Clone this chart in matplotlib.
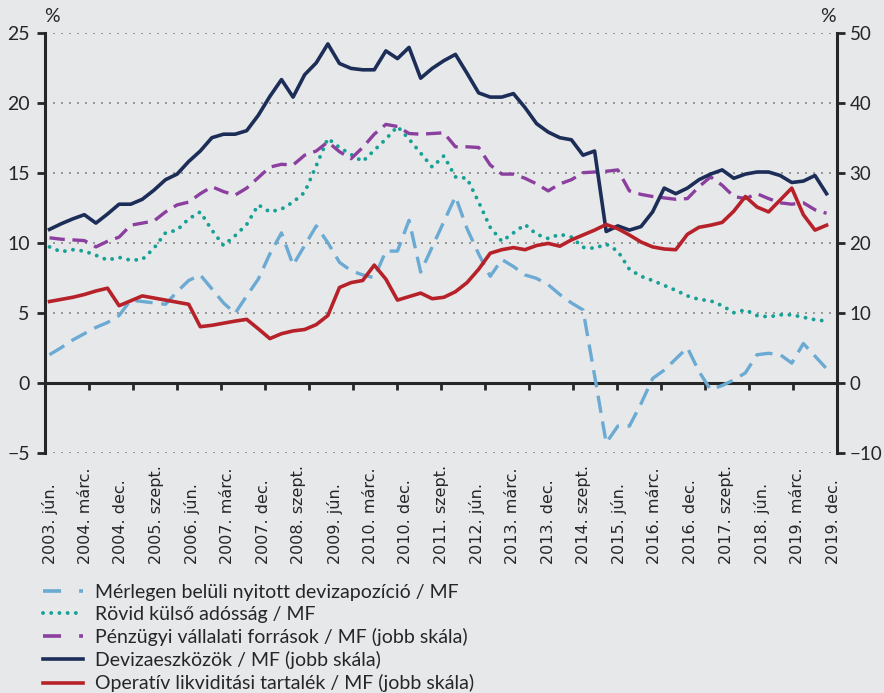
import numpy as np
import matplotlib.pyplot as plt
from matplotlib.lines import Line2D
from matplotlib.transforms import blended_transform_factory

# Quarterly data
tick_labels = ['2003. jún.', '2004. márc.', '2004. dec.', '2005. szept.', '2006. jún.',
               '2007. márc.', '2007. dec.', '2008. szept.', '2009. jún.', '2010. márc.',
               '2010. dec.', '2011. szept.', '2012. jún.', '2013. márc.', '2013. dec.',
               '2014. szept.', '2015. jún.', '2016. márc.', '2016. dec.', '2017. szept.',
               '2018. jún.', '2019. márc.', '2019. dec.']

# left scale (%)
merleg = [2.0, 2.5, 3.05, 3.5, 3.95, 4.3, 4.8, 5.9, 5.8, 5.7,
          5.6, 6.5, 7.3, 7.7, 6.7, 5.7, 4.95, 6.2, 7.4, 9.2,
          10.7, 8.4, 9.8, 11.2, 10.0, 8.6, 8.0, 7.7, 7.5, 9.4,
          9.4, 11.6, 7.9, 9.7, 11.5, 13.3, 11.0, 9.2, 7.6, 8.8,
          8.3, 7.7, 7.45, 7.0, 6.3, 5.7, 5.2, 0.5, -4.3, -3.1,
          -3.1, -1.5, 0.3, 0.9, 1.7, 2.5, 0.8, -0.5, -0.2, 0.2,
          0.7, 2.0, 2.1, 2.0, 1.4, 2.8, 1.9, 1.0]
rovid = [9.7, 9.35, 9.5, 9.4, 9.1, 8.76, 8.95, 8.75, 8.8, 9.6,
         10.7, 10.9, 11.7, 12.2, 10.9, 9.8, 10.5, 11.3, 12.7, 12.2,
         12.4, 12.9, 13.6, 15.5, 17.45, 16.8, 16.3, 15.8, 16.6, 17.4,
         18.3, 17.4, 16.4, 15.4, 16.2, 14.7, 14.6, 12.9, 11.1, 10.1,
         10.7, 11.3, 10.6, 10.3, 10.6, 10.4, 9.67, 9.6, 9.9, 9.4,
         8.1, 7.6, 7.3, 6.95, 6.6, 6.2, 5.95, 5.85, 5.5, 5.0,
         5.2, 4.8, 4.7, 4.85, 4.85, 4.67, 4.5, 4.4]

# right scale (%)
penzugyi = [20.7, 20.5, 20.4, 20.3, 19.4, 20.2, 20.8, 22.5, 22.8, 23.1,
            24.4, 25.4, 25.8, 27.0, 28.0, 27.3, 26.8, 27.8, 29.3, 30.8,
            31.2, 31.1, 32.5, 33.1, 34.4, 33.0, 32.0, 33.6, 35.5, 36.9,
            36.6, 35.6, 35.5, 35.6, 35.7, 33.7, 33.7, 33.6, 31.1, 29.8,
            29.8, 29.2, 28.4, 27.4, 28.4, 29.0, 30.0, 30.1, 30.2, 30.4,
            27.4, 26.9, 26.6, 26.4, 26.2, 26.3, 28.0, 29.4, 28.2, 26.6,
            26.3, 27.0, 26.3, 25.7, 25.5, 25.7, 24.7, 24.2]
deviza = [21.9, 22.7, 23.4, 24.0, 22.8, 24.1, 25.5, 25.5, 26.2, 27.5,
          29.0, 29.8, 31.6, 33.1, 35.0, 35.5, 35.5, 36.0, 38.2, 40.9,
          43.3, 40.8, 44.0, 45.7, 48.4, 45.6, 44.9, 44.7, 44.7, 47.4,
          46.3, 47.9, 43.5, 44.9, 46.0, 46.9, 44.2, 41.4, 40.8, 40.8,
          41.3, 39.3, 37.0, 35.8, 35.0, 34.7, 32.5, 33.1, 21.6, 22.4,
          21.8, 22.3, 24.4, 27.8, 27.0, 27.8, 29.0, 29.8, 30.4, 29.2,
          29.8, 30.1, 30.1, 29.6, 28.6, 28.8, 29.6, 27.0]
operativ = [11.6, 11.9, 12.2, 12.6, 13.1, 13.5, 11.0, 11.7, 12.4, 12.1,
            11.8, 11.5, 11.2, 8.0, 8.2, 8.5, 8.8, 9.05, 7.7, 6.3,
            7.0, 7.4, 7.6, 8.3, 9.6, 13.6, 14.3, 14.6, 16.8, 14.8,
            11.8, 12.3, 12.8, 12.0, 12.2, 13.0, 14.3, 16.2, 18.5, 19.0,
            19.3, 19.0, 19.6, 19.9, 19.5, 20.4, 21.1, 21.8, 22.6, 22.0,
            21.1, 20.1, 19.4, 19.1, 19.0, 21.2, 22.2, 22.5, 22.9, 24.5,
            26.6, 25.1, 24.4, 26.1, 27.8, 24.0, 21.8, 22.5]

legend_labels = ['Mérlegen belüli nyitott devizapozíció / MF',
                 'Rövid külső adósság / MF',
                 'Pénzügyi vállalati források / MF (jobb skála)',
                 'Devizaeszközök / MF (jobb skála)',
                 'Operatív likviditási tartalék / MF (jobb skála)']

BG = '#e7e8ea'
INK = '#262626'
C_BLUE = '#6aaad3'
C_TEAL = '#16a096'
C_PURPLE = '#8b3f9e'
C_NAVY = '#1c2e58'
C_RED = '#b7222a'

plt.rcParams['font.family'] = ['Lato', 'DejaVu Sans']

fig = plt.figure(figsize=(8.84, 6.93), dpi=100, facecolor=BG)
ax = fig.add_axes([45 / 884, 1 - 452.7 / 693, 792 / 884, 420 / 693])
ax.set_facecolor(BG)
ax2 = ax.twinx()

x = np.arange(len(deviza))
xlim = (-0.39, 67.9)
ax.set_xlim(*xlim)
ax.set_ylim(-5, 25)
ax2.set_ylim(-10, 50)
ax.set_yticks(range(-5, 26, 5))
ax2.set_yticks(range(-10, 51, 10))

# dotted horizontal grid
ax.grid(axis='y', color='#8a8a8a', lw=1.2, ls=(0, (1.2, 3.6)), zorder=0)
ax.set_axisbelow(True)

# spines
for s in ['top', 'right']:
    ax.spines[s].set_visible(False)
for s in ['top', 'left', 'bottom']:
    ax2.spines[s].set_visible(False)
ax.spines['bottom'].set_position(('data', 0))
for sp in [ax.spines['left'], ax.spines['bottom'], ax2.spines['right']]:
    sp.set_linewidth(2.2)
    sp.set_color(INK)

ax.set_xticks(np.linspace(xlim[0], xlim[1], 19))
ax.tick_params(axis='x', direction='out', length=5, width=2, color=INK, labelbottom=False)
ax.tick_params(axis='y', direction='out', length=6, width=2, color=INK,
               labelsize=14, labelcolor=INK, pad=5)
ax2.tick_params(axis='y', direction='out', length=6, width=2, color=INK,
                labelsize=13.5, labelcolor=INK, pad=3)

# series
lw = 2.6
ax.plot(x, merleg, color=C_BLUE, lw=2.4, ls=(0, (5.2, 2.6)), zorder=3)
ax.plot(x, rovid, color=C_TEAL, lw=2.8, ls=(0, (0.01, 2.1)),
        dash_capstyle='round', zorder=3)
ax2.plot(x, penzugyi, color=C_PURPLE, lw=2.4, ls=(0, (4.6, 2.3)), zorder=3)
ax2.plot(x, deviza, color=C_NAVY, lw=lw, zorder=4)
ax2.plot(x, operativ, color=C_RED, lw=lw, zorder=5)

# category labels under the chart
trans = blended_transform_factory(ax.transAxes, ax.transAxes)
label_pos = np.linspace((49.7 - 45) / 792, (833 - 45) / 792, len(tick_labels))
for px, lab in zip(label_pos, tick_labels):
    ax.text(px, (452.7 - 564) / 420, lab, rotation=90, ha='center', va='bottom',
            fontsize=11.5, family=['DejaVu Sans'], color=INK, transform=trans)

fig.text(52 / 884, 1 - 16 / 693, '%', ha='center', va='center', fontsize=14, color=INK)
fig.text(828 / 884, 1 - 16 / 693, '%', ha='center', va='center', fontsize=14, color=INK)

handles = [
    Line2D([], [], color=C_BLUE, lw=2.6, ls=(0, (5, 5))),
    Line2D([], [], color=C_TEAL, lw=2.8, ls=(0, (0.01, 2.1)), dash_capstyle='round'),
    Line2D([], [], color=C_PURPLE, lw=2.6, ls=(0, (5, 5))),
    Line2D([], [], color=C_NAVY, lw=lw),
    Line2D([], [], color=C_RED, lw=lw),
]
fig.legend(handles, legend_labels, loc='upper left',
           bbox_to_anchor=(43 / 884, 1 - 584 / 693), frameon=False,
           fontsize=14, handlelength=2.05, handletextpad=0.6,
           labelspacing=0.26, borderpad=0, borderaxespad=0, labelcolor=INK)

fig.savefig('out.png', dpi=100, facecolor=BG)
